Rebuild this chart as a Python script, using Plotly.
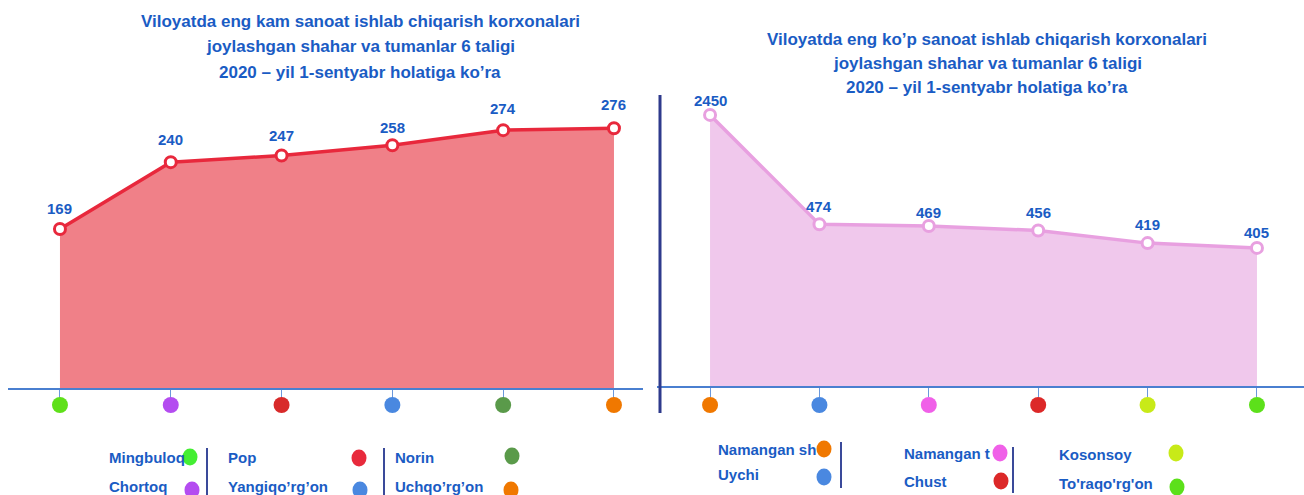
import plotly.graph_objects as go

# ---------------- data ----------------
left_cats = ["Mingbuloq", "Chortoq", "Pop", "Yangiqo’rg’on", "Norin", "Uchqo’rg’on"]
left_vals = [169, 240, 247, 258, 274, 276]
left_dot_colors = ["#5fe01a", "#b44cf0", "#d82a2a", "#4a88e0", "#5a9a4a", "#f07800"]
left_legend_colors = ["#44ee33", "#b44cf0", "#e82a3c", "#4a88e0", "#5a9a4a", "#f07800"]

right_cats = ["Namangan sh", "Uychi", "Namangan t", "Chust", "Kosonsoy", "To'raqo'rg'on"]
right_vals = [2450, 474, 469, 456, 419, 405]
right_dot_colors = ["#f07800", "#4a88e0", "#f060e8", "#dc2828", "#c8ea18", "#5ce01a"]

left_title_lines = ["Viloyatda eng kam sanoat ishlab chiqarish korxonalari",
                    "joylashgan shahar va tumanlar 6 taligi",
                    "2020 – yil 1-sentyabr holatiga ko’ra"]
right_title_lines = ["Viloyatda eng ko’p sanoat ishlab chiqarish korxonalari",
                     "joylashgan shahar va tumanlar 6 taligi",
                     "2020 – yil 1-sentyabr holatiga ko’ra"]

# ---------------- style ----------------
W, H = 1304, 495
FONT = "Liberation Sans, Arial, sans-serif"
BLUE_TXT = "#1a5cc4"
AXIS_BLUE = "#4a7fd0"

# broken (compressed) value axis for the right chart, as in the original
BREAK, COMPRESS = 600, 0.1054
def squash(v):
    return v if v <= BREAK else BREAK + (v - BREAK) * COMPRESS

right_disp = [squash(v) for v in right_vals]

def px_x(p):
    return p / W

def px_y(p):
    return 1 - p / H

fig = go.Figure()

# left area
fig.add_trace(go.Scatter(
    x=left_cats, y=left_vals, mode="lines+markers", fill="tozeroy",
    fillcolor="#f08088", line=dict(color="#e8283c", width=3.5),
    marker=dict(size=11, color="white", line=dict(color="#e8283c", width=3)),
    xaxis="x", yaxis="y", hoverinfo="skip", showlegend=False))
# left dots row
fig.add_trace(go.Scatter(
    x=left_cats, y=[0] * len(left_cats), mode="markers",
    marker=dict(size=16, color=left_dot_colors),
    xaxis="x", yaxis="y3", hoverinfo="skip", showlegend=False))

# right area
fig.add_trace(go.Scatter(
    x=right_cats, y=right_disp, mode="lines+markers", fill="tozeroy",
    fillcolor="#f0c8ec", line=dict(color="#e8a0e0", width=3.5),
    marker=dict(size=11, color="white", line=dict(color="#e8a0e0", width=3)),
    xaxis="x2", yaxis="y2", hoverinfo="skip", showlegend=False))
fig.add_trace(go.Scatter(
    x=right_cats, y=[0] * len(right_cats), mode="markers",
    marker=dict(size=16, color=right_dot_colors),
    xaxis="x2", yaxis="y4", hoverinfo="skip", showlegend=False))

annotations = []
# value labels
left_shift = [10, 12, 10, 7, 11, 13]
for c, v, s in zip(left_cats, left_vals, left_shift):
    annotations.append(dict(x=c, y=v, xref="x", yref="y", text=f"<b>{v}</b>", showarrow=False,
                            yshift=s, yanchor="bottom", font=dict(family=FONT, size=15, color=BLUE_TXT)))
right_shift = [4, 7, 3, 8, 8, 5]
for c, v, d, s in zip(right_cats, right_vals, right_disp, right_shift):
    annotations.append(dict(x=c, y=d, xref="x2", yref="y2", text=f"<b>{v}</b>", showarrow=False,
                            yshift=s, yanchor="bottom", font=dict(family=FONT, size=15, color=BLUE_TXT)))

# titles (one annotation per line)
for lines, cx, ys in ((left_title_lines, 360, [22, 47, 72]), (right_title_lines, 987, [40, 63.5, 87])):
    for ln, yy in zip(lines, ys):
        annotations.append(dict(x=px_x(cx), y=px_y(yy), xref="paper", yref="paper", text=f"<b>{ln}</b>",
                                showarrow=False, xanchor="center", yanchor="middle",
                                font=dict(family=FONT, size=17, color=BLUE_TXT)))

shapes = []
# legend blocks: (text x, text y, dot x, dot y)
left_leg_pos = [(107, 457, 190, 457), (107, 486, 192, 490), (226, 457, 359, 458),
                (226, 486, 360, 490), (393, 457, 512, 456), (393, 486, 511, 490)]
right_leg_pos = [(716, 449, 824, 449), (716, 474, 824, 477), (902, 453, 1000, 453),
                 (902, 481, 1001, 481), (1057, 454, 1176, 453), (1057, 483, 1177, 487)]
for cats, cols, pos in ((left_cats, left_legend_colors, left_leg_pos),
                        (right_cats, right_dot_colors, right_leg_pos)):
    for lab, col, (tx, ty, dx, dy) in zip(cats, cols, pos):
        annotations.append(dict(x=px_x(tx), y=px_y(ty), xref="paper", yref="paper", text=f"<b>{lab}</b>",
                                showarrow=False, xanchor="left", yanchor="middle",
                                font=dict(family=FONT, size=15, color=BLUE_TXT)))
        shapes.append(dict(type="circle", xref="paper", yref="paper",
                           x0=px_x(dx - 7.5), x1=px_x(dx + 7.5), y0=px_y(dy + 8.5), y1=px_y(dy - 8.5),
                           fillcolor=col, line=dict(width=0)))

# separators
for x, y0, y1 in [(207, 448, 495), (384, 448, 495), (841, 442, 488), (1013, 447, 493)]:
    shapes.append(dict(type="line", xref="paper", yref="paper", x0=px_x(x), x1=px_x(x),
                       y0=px_y(y0), y1=px_y(y1), line=dict(color="#3a4a9a", width=2)))
# vertical divider
shapes.append(dict(type="line", xref="paper", yref="paper", x0=px_x(660), x1=px_x(660),
                   y0=px_y(95), y1=px_y(413), line=dict(color="#2e3a8c", width=3)))

xcommon = dict(showgrid=False, zeroline=False, showline=True, linecolor=AXIS_BLUE, linewidth=2,
               ticks="outside", ticklen=9, tickcolor="#6a98dc", tickwidth=1, showticklabels=False,
               fixedrange=True)
ycommon = dict(showgrid=False, zeroline=False, showline=False, showticklabels=False, ticks="",
               fixedrange=True)

fig.update_layout(
    width=W, height=H, margin=dict(l=0, r=0, t=0, b=0),
    paper_bgcolor="white", plot_bgcolor="rgba(0,0,0,0)",
    xaxis=dict(domain=[px_x(8), px_x(643)], range=[-0.469, 5.262], anchor="y", **xcommon),
    yaxis=dict(domain=[px_y(388), px_y(95)], range=[0, (388 - 95) / 0.941], anchor="x", **ycommon),
    yaxis3=dict(domain=[px_y(414), px_y(396)], range=[-1, 1], anchor="x", **ycommon),
    xaxis2=dict(domain=[px_x(657), px_x(1304)], range=[-0.485, 5.43], anchor="y2", **xcommon),
    yaxis2=dict(domain=[px_y(386), px_y(95)], range=[0, (386 - 95) / 0.341], anchor="x2", **ycommon),
    yaxis4=dict(domain=[px_y(414), px_y(396)], range=[-1, 1], anchor="x2", **ycommon),
    annotations=annotations, shapes=shapes,
)

fig.write_html("out.html", config={"displayModeBar": False, "staticPlot": True},
               post_script="document.body.style.margin='0';document.body.style.overflow='hidden';")
